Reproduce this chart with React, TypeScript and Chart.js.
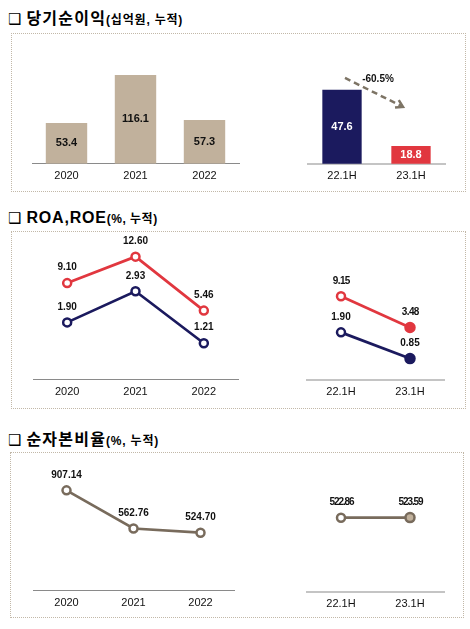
import React, { useEffect, useRef } from "react";
import { Chart, registerables } from "chart.js";

Chart.register(...registerables);

const FONT = "'Liberation Sans', Arial, sans-serif";
const TITLE_FONT = "'Liberation Sans', 'Noto Sans CJK KR', sans-serif";

// ---- data ----
const yearLabels = ["2020", "2021", "2022"];
const halfLabels = ["22.1H", "23.1H"];
const netIncomeYears = [53.4, 116.1, 57.3];
const netIncomeHalves = [47.6, 18.8];
const netIncomeChangeLabel = "-60.5%";
const roeYears = [9.1, 12.6, 5.46];
const roaYears = [1.9, 2.93, 1.21];
const roeHalves = [9.15, 3.48];
const roaHalves = [1.9, 0.85];
const capitalYears = [907.14, 562.76, 524.7];
const capitalHalves = [522.86, 523.59];

// ---- colours ----
const TAN = "#c1b19c";
const NAVY = "#1b1a5e";
const RED = "#e1373f";
const BROWN = "#786b5c";
const ARROW = "#7d7465";
const DARK_AXIS = "#8a8a8a";
const LIGHT_AXIS = "#c4c4c4";
const BOX_BORDER = "#c2b8a8";

const valueLabelPlugin = {
  id: "valueLabels",
  afterDatasetsDraw(chart: any) {
    const ctx = chart.ctx;
    const bottom = chart.chartArea.bottom;
    chart.data.datasets.forEach((ds: any, di: number) => {
      const lc = ds.valueLabels;
      if (!lc) return;
      const meta = chart.getDatasetMeta(di);
      meta.data.forEach((el: any, i: number) => {
        const v = ds.data[i] as number;
        const text = v.toFixed(lc.decimals);
        const y = lc.inside ? (el.y + Math.min(el.base, bottom)) / 2 : el.y - lc.offset;
        ctx.save();
        ctx.font = `bold ${lc.size}px ${FONT}`;
        ctx.fillStyle = Array.isArray(lc.color) ? lc.color[i] : lc.color;
        ctx.textAlign = "center";
        ctx.textBaseline = "middle";
        const ls = Array.isArray(lc.spacing) ? lc.spacing[i] : lc.spacing || 0;
        ctx.letterSpacing = `${ls}px`;
        ctx.fillText(text, el.x - ls * 0.5, y);
        ctx.restore();
      });
    });
  },
};

const arrowPlugin = {
  id: "changeArrow",
  afterDatasetsDraw(chart: any) {
    const ctx = chart.ctx;
    const meta = chart.getDatasetMeta(0);
    const a = meta.data[0];
    const b = meta.data[1];
    const x1 = a.x + 3;
    const y1 = a.y - 12;
    const x2 = b.x - 8;
    const y2 = b.y - 39;
    const ang = Math.atan2(y2 - y1, x2 - x1);
    ctx.save();
    ctx.strokeStyle = ARROW;
    ctx.lineWidth = 2.5;
    ctx.setLineDash([6, 4]);
    ctx.beginPath();
    ctx.moveTo(x1, y1);
    ctx.lineTo(x2 - 2 * Math.cos(ang), y2 - 2 * Math.sin(ang));
    ctx.stroke();
    ctx.setLineDash([]);
    const L = 8;
    ctx.beginPath();
    ctx.moveTo(x2 - L * Math.cos(ang - 0.55), y2 - L * Math.sin(ang - 0.55));
    ctx.lineTo(x2, y2);
    ctx.lineTo(x2 - L * Math.cos(ang + 0.55), y2 - L * Math.sin(ang + 0.55));
    ctx.stroke();
    ctx.font = `bold 10px ${FONT}`;
    ctx.fillStyle = "#111";
    ctx.textAlign = "center";
    ctx.textBaseline = "middle";
    ctx.fillText(netIncomeChangeLabel, (x1 + x2) / 2 + 4, y1 + 1);
    ctx.restore();
  },
};

function xAxis(color: string, width: number) {
  return {
    type: "category",
    offset: true,
    grid: { display: false, drawTicks: false },
    border: { display: true, color, width, z: -1 },
    ticks: {
      color: "#111",
      font: { family: FONT, size: 11 },
      padding: 6,
      autoSkip: false,
      maxRotation: 0,
    },
  };
}

function hiddenY(min: number, max: number, position = "left") {
  return { display: false, min, max, position };
}

function lineDataset(
  data: number[],
  color: string,
  yAxisID: string,
  lastFill: string | null,
  spacing: number | number[] = 0
) {
  return {
    type: "line",
    data,
    yAxisID,
    borderColor: color,
    borderWidth: 2.7,
    tension: 0,
    pointRadius: data.map((_, i) => (lastFill && i === data.length - 1 ? 4.5 : 4)),
    pointBorderWidth: 2.5,
    pointBorderColor: color,
    pointBackgroundColor: data.map((_, i) =>
      lastFill && i === data.length - 1 ? lastFill : "#ffffff"
    ),
    valueLabels: { decimals: 2, size: 10, color: "#111", offset: 15.5, spacing },
  };
}

function baseOptions(padding: any, scales: any) {
  return {
    responsive: false,
    maintainAspectRatio: false,
    animation: false,
    layout: { padding },
    plugins: { legend: { display: false }, tooltip: { enabled: false } },
    scales,
  };
}

const configs: Record<string, () => any> = {
  incomeYears: () => ({
    type: "bar",
    data: {
      labels: yearLabels,
      datasets: [
        {
          data: netIncomeYears,
          backgroundColor: TAN,
          barPercentage: 0.6,
          categoryPercentage: 1,
          valueLabels: { decimals: 1, size: 11, color: "#111", inside: true },
        },
      ],
    },
    options: baseOptions(
      { left: 20, right: 13, top: 23, bottom: 8 },
      { x: xAxis(DARK_AXIS, 1), y: hiddenY(0, 131.7) }
    ),
    plugins: [valueLabelPlugin],
  }),
  incomeHalves: () => ({
    type: "bar",
    data: {
      labels: halfLabels,
      datasets: [
        {
          data: netIncomeHalves,
          backgroundColor: [NAVY, RED],
          barPercentage: 0.57,
          categoryPercentage: 1,
          valueLabels: { decimals: 1, size: 11, color: "#ffffff", inside: true },
        },
      ],
    },
    options: baseOptions(
      { left: 17.5, right: 14.5, top: 23, bottom: 8 },
      { x: xAxis(LIGHT_AXIS, 2), y: hiddenY(9.6, 61.4) }
    ),
    plugins: [valueLabelPlugin, arrowPlugin],
  }),
  ratioYears: () => ({
    type: "line",
    data: {
      labels: yearLabels,
      datasets: [
        lineDataset(roeYears, RED, "y", null),
        lineDataset(roaYears, NAVY, "y1", null),
      ],
    },
    options: baseOptions(
      { left: 21, right: 14, top: 10, bottom: 10 },
      {
        x: xAxis(DARK_AXIS, 1),
        y: hiddenY(-3.7, 14.54),
        y1: hiddenY(0, 4.56, "right"),
      }
    ),
    plugins: [valueLabelPlugin],
  }),
  ratioHalves: () => ({
    type: "line",
    data: {
      labels: halfLabels,
      datasets: [
        lineDataset(roeHalves, RED, "y", RED, -0.6),
        lineDataset(roaHalves, NAVY, "y1", NAVY),
      ],
    },
    options: baseOptions(
      { left: 16.5, right: 15.5, top: 10, bottom: 10 },
      {
        x: xAxis(LIGHT_AXIS, 2),
        y: hiddenY(-6.0, 19.0),
        y1: hiddenY(0, 5.52, "right"),
      }
    ),
    plugins: [valueLabelPlugin],
  }),
  capitalYears: () => ({
    type: "line",
    data: {
      labels: yearLabels,
      datasets: [lineDataset(capitalYears, BROWN, "y", null)],
    },
    options: baseOptions(
      { left: 21, right: 18, top: 10, bottom: 8 },
      { x: xAxis(DARK_AXIS, 1), y: hiddenY(0, 1136) }
    ),
    plugins: [valueLabelPlugin],
  }),
  capitalHalves: () => ({
    type: "line",
    data: {
      labels: halfLabels,
      datasets: [lineDataset(capitalHalves, BROWN, "y", TAN, -1.1)],
    },
    options: baseOptions(
      { left: 16.5, right: 15.5, top: 10, bottom: 7 },
      { x: xAxis(LIGHT_AXIS, 2), y: hiddenY(0, 895) }
    ),
    plugins: [valueLabelPlugin],
  }),
};

function ChartCanvas(props: { left: number; top: number; width: number; height: number; name: string }) {
  const ref = useRef<HTMLCanvasElement>(null);
  useEffect(() => {
    const chart = new Chart(ref.current as HTMLCanvasElement, configs[props.name]());
    return () => chart.destroy();
  }, [props.name]);
  return (
    <canvas
      ref={ref}
      width={props.width}
      height={props.height}
      style={{ position: "absolute", left: props.left, top: props.top, width: props.width, height: props.height }}
    />
  );
}

function Title(props: { top: number; main: string; sub: string; latin?: boolean }) {
  return (
    <div
      style={{
        position: "absolute",
        left: 8,
        top: props.top,
        height: 20,
        lineHeight: "20px",
        whiteSpace: "nowrap",
        fontFamily: TITLE_FONT,
        fontWeight: "bold",
        color: "#000",
      }}
    >
      <span style={{ fontFamily: "'DejaVu Sans', sans-serif", fontSize: 15, fontWeight: "normal", marginRight: 5 }}>❑</span>
      <span style={{ fontSize: 16, letterSpacing: props.latin ? 0.8 : 1.2 }}>{props.main}</span>
      <span style={{ fontSize: 12, letterSpacing: props.latin ? 0.5 : 0.8 }}>{props.sub}</span>
    </div>
  );
}

function Box(props: { left: number; top: number; width: number; height: number }) {
  return (
    <div
      style={{
        position: "absolute",
        left: props.left,
        top: props.top,
        width: props.width,
        height: props.height,
        boxSizing: "border-box",
        border: `1px dotted ${BOX_BORDER}`,
      }}
    />
  );
}

export default function App() {
  return (
    <div style={{ position: "absolute", left: 0, top: 0, width: 470, height: 629, background: "#fff", overflow: "hidden" }}>
      <Title top={9} main="당기순이익" sub="(십억원, 누적)" />
      <Box left={11} top={33} width={455} height={159} />
      <ChartCanvas name="incomeYears" left={12} top={40} width={240} height={157} />
      <ChartCanvas name="incomeHalves" left={290} top={40} width={170} height={157} />

      <Title top={208} main="ROA,ROE" sub="(%, 누적)" latin />
      <Box left={11} top={231} width={455} height={178} />
      <ChartCanvas name="ratioYears" left={12} top={232} width={240} height={183} />
      <ChartCanvas name="ratioHalves" left={290} top={232} width={170} height={183} />

      <Title top={430} main="순자본비율" sub="(%, 누적)" />
      <Box left={10} top={452} width={454} height={166} />
      <ChartCanvas name="capitalYears" left={12} top={455} width={240} height={169} />
      <ChartCanvas name="capitalHalves" left={290} top={455} width={170} height={169} />
    </div>
  );
}
